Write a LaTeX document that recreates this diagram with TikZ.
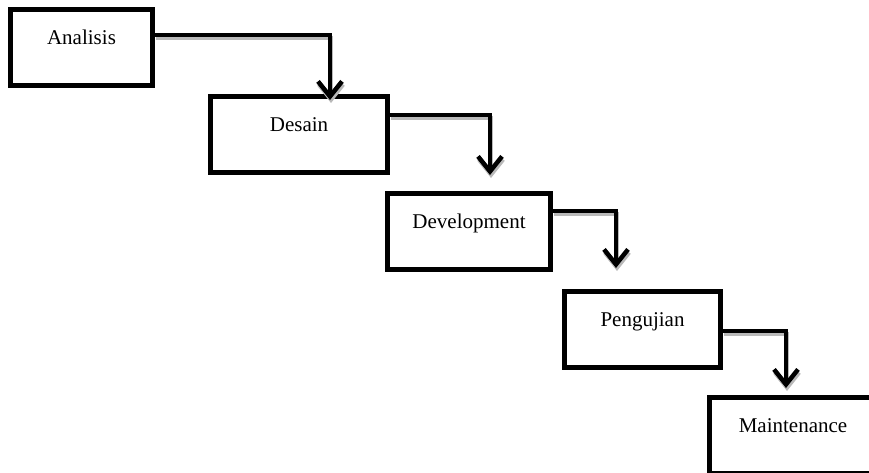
\documentclass[tikz,border=0pt]{standalone}
\usepackage{fontspec}
\setmainfont{Liberation Serif}
\usetikzlibrary{arrows.meta}
\tikzset{
  stage/.style={draw, line width=5pt, minimum width=#1, minimum height=76pt,
    text height=35pt, text depth=41pt, inner sep=0pt, font=\fontsize{21}{25}\selectfont},
  flow/.style={line width=4.5pt, -{Straight Barb[length=15pt,width=24pt]},
    preaction={draw, gray!55, line width=4.5pt, transform canvas={xshift=1pt,yshift=-3pt}}}
}
\begin{document}
\begin{tikzpicture}[x=1pt,y=-1pt]
	\useasboundingbox (0,0) rectangle (869,472);
	\clip (0,0) rectangle (869,472);

	% stages
	\node[stage=142pt] (ana) at (81.5,47) {Analisis};
	\node[stage=176.5pt] (des) at (299,134) {Desain};
	\node[stage=163pt] (dev) at (469,231) {Development};
	\node[stage=156pt] (uji) at (642.5,329.5) {Pengujian};
	\node[stage=167pt] (mnt) at (793,435.5) {Maintenance};

	% bends and tips
	\coordinate (b1) at (330,35);  \coordinate (t1) at (330,100);
	\coordinate (b2) at (490,115); \coordinate (t2) at (490,175);
	\coordinate (b3) at (616,211); \coordinate (t3) at (616,268);
	\coordinate (b4) at (786,331); \coordinate (t4) at (786,388);

	% flow
	\draw[flow] (ana.east |- b1) -- (b1) -- (t1);
	\draw[flow] (des.east |- b2) -- (b2) -- (t2);
	\draw[flow] (dev.east |- b3) -- (b3) -- (t3);
	\draw[flow] (uji.east |- b4) -- (b4) -- (t4);
\end{tikzpicture}
\end{document}
